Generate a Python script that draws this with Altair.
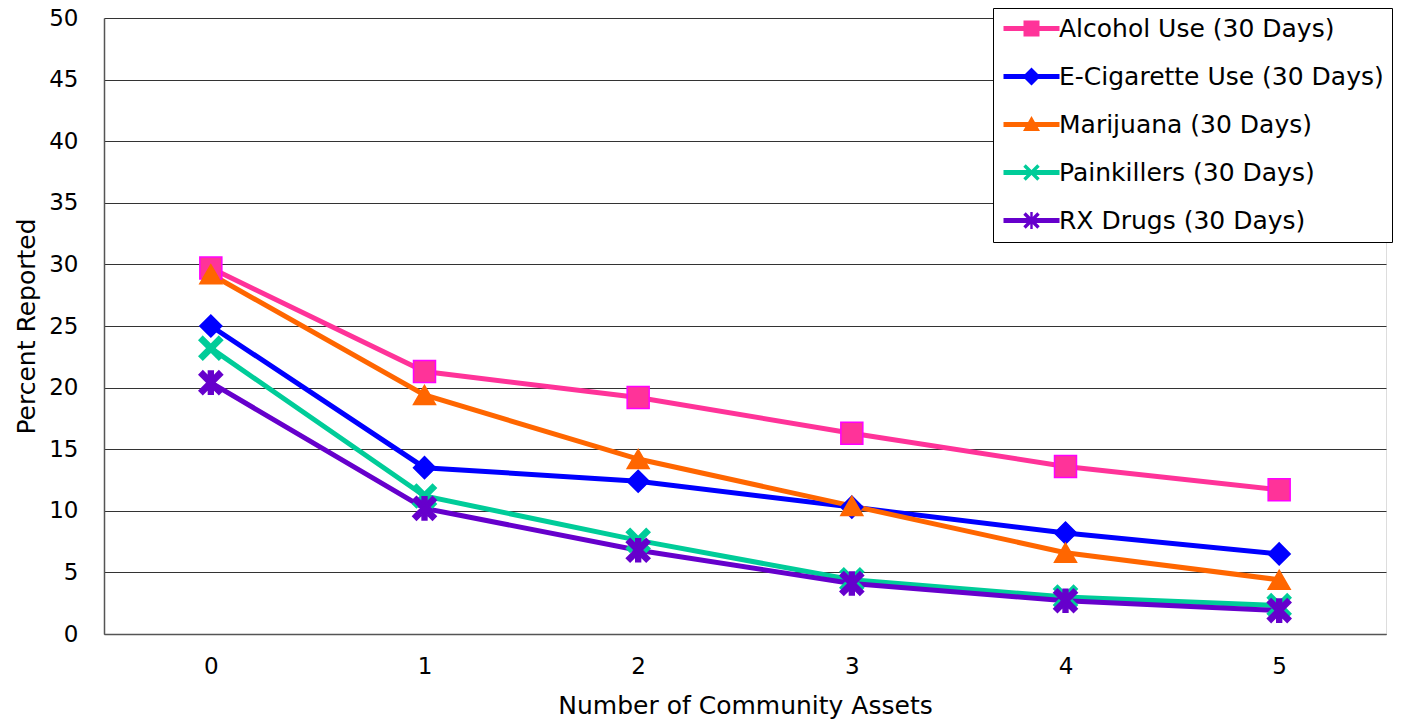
import altair as alt
import pandas as pd

# ---- data ----
x_labels = ["0", "1", "2", "3", "4", "5"]
series_names = [
    "Alcohol Use (30 Days)",
    "E-Cigarette Use (30 Days)",
    "Marijuana (30 Days)",
    "Painkillers (30 Days)",
    "RX Drugs (30 Days)",
]
alcohol = [29.7, 21.3, 19.2, 16.3, 13.6, 11.7]
ecig = [25.0, 13.5, 12.4, 10.3, 8.2, 6.5]
marijuana = [29.2, 19.4, 14.2, 10.4, 6.6, 4.4]
painkillers = [23.2, 11.2, 7.6, 4.4, 3.0, 2.3]
rx = [20.4, 10.2, 6.8, 4.1, 2.7, 1.9]

values = [alcohol, ecig, marijuana, painkillers, rx]
rows = []
for name, vals in zip(series_names, values):
    for x, v in zip(x_labels, vals):
        rows.append({"assets": x, "series": name, "pct": v})
df = pd.DataFrame(rows)

# ---- styles ----
line_colors = ["#FF3399", "#0000FF", "#FF6600", "#00CC99", "#6600CC"]
edge_colors = ["#FF00FF", "#0000FF", "#FF6600", "#00CC99", "#6600CC"]
FONT = "DejaVu Sans"


def xpath(cx, a, o):
    p1 = (f"M{cx-a+o:.3f},{-a-o:.3f} L{cx+a+o:.3f},{a-o:.3f} "
          f"L{cx+a-o:.3f},{a+o:.3f} L{cx-a-o:.3f},{-a+o:.3f} Z")
    p2 = (f"M{cx+a-o:.3f},{-a-o:.3f} L{cx+a+o:.3f},{-a+o:.3f} "
          f"L{cx-a+o:.3f},{a+o:.3f} L{cx-a-o:.3f},{a-o:.3f} Z")
    return p1 + " " + p2


def vbar(cx, w, h):
    return f"M{cx-w:.3f},{-h:.3f} L{cx+w:.3f},{-h:.3f} L{cx+w:.3f},{h:.3f} L{cx-w:.3f},{h:.3f} Z"


chart_shapes = [
    "square",
    "diamond",
    "triangle-up",
    xpath(0, 0.9, 0.17),
    xpath(0, 0.9, 0.17) + " " + vbar(0, 0.22, 1.05),
]

cx = 1.8
line_part = "M-1,-0.25 L4.6,-0.25 L4.6,0.25 L-1,0.25 Z "
legend_shapes = [
    line_part + f"M{cx-0.8},-0.8 L{cx+0.8},-0.8 L{cx+0.8},0.8 L{cx-0.8},0.8 Z",
    line_part + f"M{cx},-0.9 L{cx+0.9},0 L{cx},0.9 L{cx-0.9},0 Z",
    line_part + f"M{cx},-0.85 L{cx+0.85},0.65 L{cx-0.85},0.65 Z",
    line_part + xpath(cx, 0.7, 0.12),
    line_part + xpath(cx, 0.7, 0.12) + " " + vbar(cx, 0.12, 0.85),
]

x_enc = alt.X(
    "assets:O",
    sort=x_labels,
    scale=alt.Scale(type="point", padding=0.5),
    axis=alt.Axis(
        title="Number of Community Assets",
        labelAngle=0,
        labelFont=FONT,
        labelFontSize=23,
        labelColor="black",
        labelPadding=21,
        ticks=False,
        domainColor="#555555",
        domainWidth=1.5,
        titleFont=FONT,
        titleFontSize=25,
        titleFontWeight="normal",
        titleColor="black",
        titlePadding=15,
        grid=False,
    ),
)
y_enc = alt.Y(
    "pct:Q",
    scale=alt.Scale(domain=[0, 50], nice=False),
    axis=alt.Axis(
        title="Percent Reported",
        values=list(range(0, 51, 5)),
        labelFont=FONT,
        labelFontSize=23,
        labelColor="black",
        labelPadding=26,
        ticks=False,
        domainColor="#555555",
        domainWidth=1.5,
        gridColor="#333333",
        gridWidth=1,
        titleFont=FONT,
        titleFontSize=25,
        titleFontWeight="normal",
        titleColor="black",
        titlePadding=9,
    ),
)

color_scale = alt.Scale(domain=series_names, range=line_colors)

lines = alt.Chart(df).mark_line(strokeWidth=5).encode(
    x=x_enc,
    y=y_enc,
    color=alt.Color("series:N", scale=color_scale, legend=None),
    detail="series:N",
)

points = alt.Chart(df).mark_point(filled=True, size=484, strokeWidth=1.5, opacity=1).encode(
    x=x_enc,
    y=y_enc,
    color=alt.Color("series:N", scale=color_scale, legend=None),
    stroke=alt.Stroke("series:N", scale=alt.Scale(domain=series_names, range=edge_colors), legend=None),
    shape=alt.Shape("series:N", scale=alt.Scale(domain=series_names, range=chart_shapes), legend=None),
)

legend_spec = alt.Legend(
    title=None,
    orient="none",
    legendX=889,
    legendY=-10,
    strokeColor="black",
    fillColor="white",
    padding=8,
    labelFont=FONT,
    labelFontSize=25,
    labelColor="black",
    labelLimit=600,
    labelOffset=33,
    symbolSize=400,
    symbolStrokeWidth=0,
    symbolOpacity=1,
    rowPadding=22,
)

legend_layer = alt.Chart(df).mark_point(filled=True, size=400, opacity=0).encode(
    x=x_enc,
    y=y_enc,
    color=alt.Color("series:N", scale=color_scale, legend=legend_spec),
    shape=alt.Shape("series:N", scale=alt.Scale(domain=series_names, range=legend_shapes), legend=legend_spec),
)

chart = (
    alt.layer(lines, points, legend_layer)
    .resolve_scale(color="independent", shape="independent", stroke="independent")
    .properties(
        width=1282,
        height=616,
        autosize=alt.AutoSizeParams(type="none"),
        padding={"left": 96, "top": 10, "right": 8, "bottom": 85},
    )
    .configure_view(stroke="#555555", strokeWidth=1.5)
    .configure(background="white")
)

chart.save("out.html", embed_options={"renderer": "svg", "actions": False})
